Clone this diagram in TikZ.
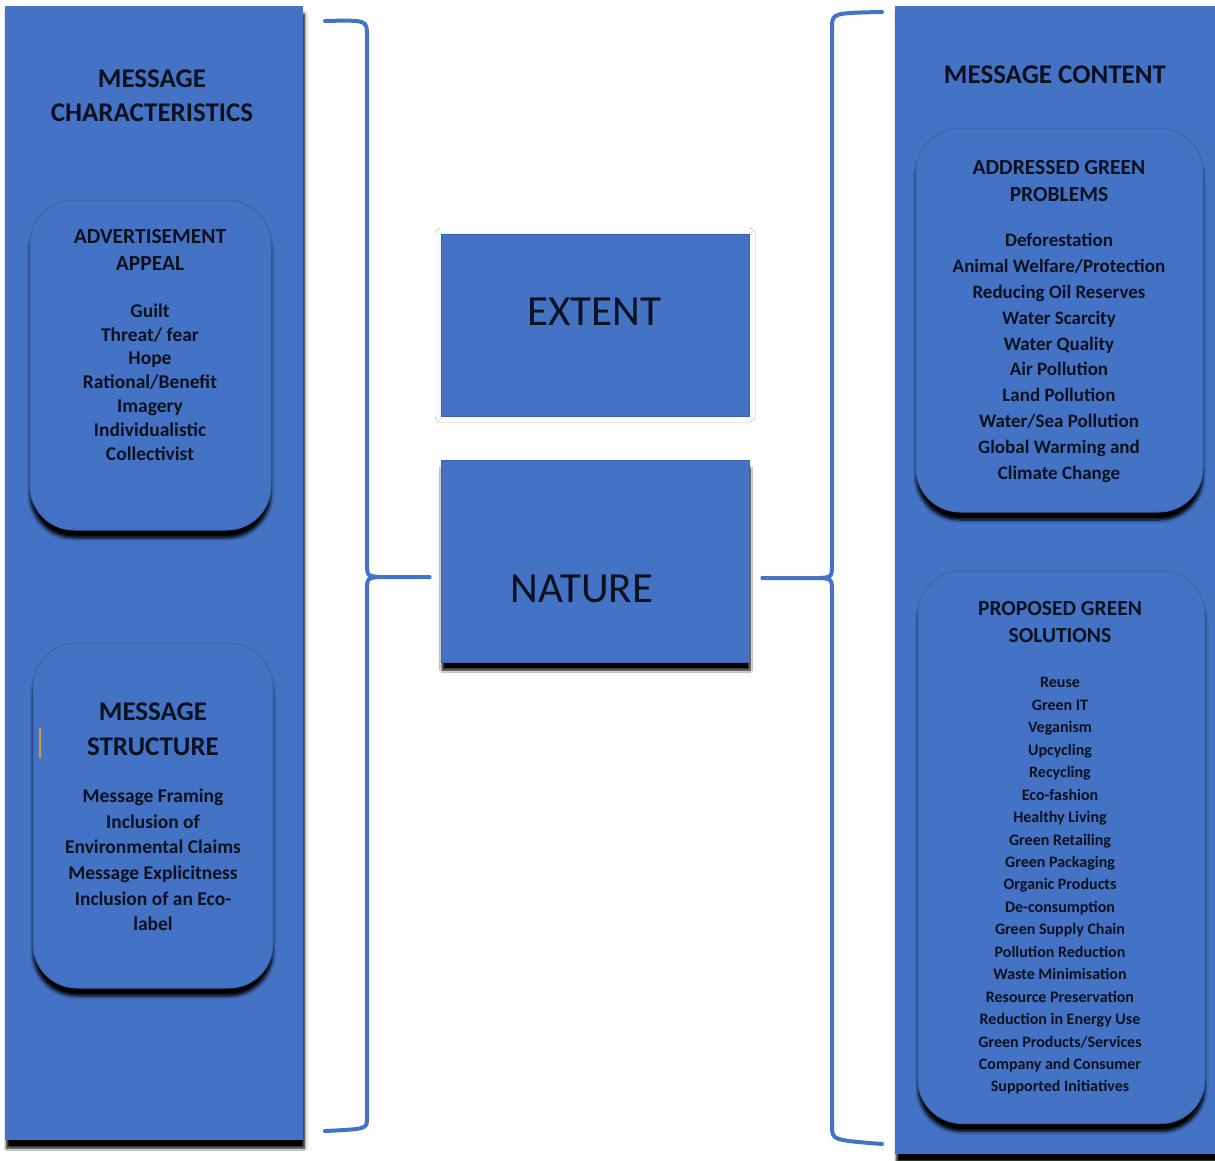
\documentclass[tikz,border=0pt]{standalone}
\usepackage{fontspec}
\setmainfont{Carlito}
\usetikzlibrary{shadows.blur,calc}

\definecolor{officeblue}{HTML}{4472C4}
\definecolor{inkdark}{HTML}{0B111F}
\definecolor{boxedge}{HTML}{3A63AE}
\definecolor{markorange}{HTML}{D39A35}

\newcommand{\setsz}[2]{\fontsize{#1}{#2}\selectfont}

\tikzset{
  panel/.style={rectangle, fill=officeblue, draw=none, inner sep=0pt,
    blur shadow={shadow xshift=1.5pt, shadow yshift=-8pt, shadow opacity=100,
      shadow blur radius=2.5pt, shadow blur steps=6}},
  flatbox/.style={rectangle, fill=officeblue, draw=boxedge, line width=0.6pt, inner sep=0pt},
  roundbox/.style={rectangle, rounded corners=44pt, fill=officeblue,
    draw=boxedge, line width=1pt, inner sep=0pt,
    blur shadow={shadow xshift=0pt, shadow yshift=-8pt, shadow opacity=100,
      shadow blur radius=3pt, shadow blur steps=6}},
  heading/.style={text=inkdark, align=center, inner sep=0pt,
    font=\bfseries\setsz{27}{34}},
  subhead/.style={text=inkdark, align=center, inner sep=0pt,
    font=\bfseries\setsz{21.5}{27}},
  items/.style={text=inkdark, align=center, inner sep=0pt, font=\bfseries},
  bigword/.style={text=inkdark, inner sep=0pt, font=\setsz{43}{50}},
  bracket/.style={draw=officeblue, line width=4pt, line cap=round, line join=round}
}

\begin{document}
\begin{tikzpicture}[x=1pt, y=-1pt]
  \useasboundingbox (0,0) rectangle (1215,1160);
  \fill[white] (0,0) rectangle (1215,1160);

  % ---------- left column: message characteristics ----------
  \node[panel, minimum width=298pt, minimum height=1134pt] (leftpanel) at (154,573) {};
  \node[heading] (lefttitle) at (152,96) {MESSAGE\\CHARACTERISTICS};

  \node[roundbox, minimum width=241pt, minimum height=330pt] (appeal) at (150.5,365) {};
  \node[subhead] (appealtitle) at (150,250) {ADVERTISEMENT\\APPEAL};
  \node[items, font=\bfseries\setsz{19.5}{23.8}] (appeallist) at (150,382)
    {Guilt\\Threat/ fear\\Hope\\Rational/Benefit\\Imagery\\Individualistic\\Collectivist};

  \node[roundbox, minimum width=240pt, minimum height=345pt] (structure) at (153,815.5) {};
  \node[heading, font=\bfseries\setsz{27}{35}] (structuretitle) at (153,729) {MESSAGE\\STRUCTURE};
  \node[items, font=\bfseries\setsz{19.5}{25.6}] (structurelist) at (153,860)
    {Message Framing\\Inclusion of\\Environmental Claims\\Message Explicitness\\Inclusion of an Eco-\\label};
  \draw[markorange, line width=2pt] ($(structure.west)+(7,-88)$) -- ++(0,30);

  % ---------- centre: extent and nature ----------
  \node[flatbox, minimum width=308pt, minimum height=182pt,
    blur shadow={shadow xshift=0pt, shadow yshift=0pt, shadow opacity=8,
      shadow blur radius=6pt, shadow blur steps=4}] (extent) at (595,325) {};
  \node[bigword] (extentlabel) at (594,312) {EXTENT};

  \node[flatbox, minimum width=308pt, minimum height=202pt,
    blur shadow={shadow xshift=1pt, shadow yshift=-8pt, shadow opacity=100,
      shadow blur radius=2.5pt, shadow blur steps=6}] (nature) at (595,561) {};
  \node[bigword] (naturelabel) at (582,589) {NATURE};

  % ---------- right column: message content ----------
  \node[panel, minimum width=322pt, minimum height=1148pt] (rightpanel) at (1056,580) {};
  \node[heading] (righttitle) at (1055,75) {MESSAGE CONTENT};

  \node[roundbox, minimum width=287pt, minimum height=384pt] (problems) at (1059.5,320) {};
  \node[subhead] (problemstitle) at (1059,181) {ADDRESSED GREEN\\PROBLEMS};
  \node[items, font=\bfseries\setsz{19}{25.8}] (problemslist) at (1059,358)
    {Deforestation\\Animal Welfare/Protection\\Reducing Oil Reserves\\Water Scarcity\\Water Quality\\Air Pollution\\Land Pollution\\Water/Sea Pollution\\Global Warming and\\Climate Change};

  \node[roundbox, minimum width=287pt, minimum height=553pt] (solutions) at (1061.5,847) {};
  \node[subhead] (solutionstitle) at (1060,622) {PROPOSED GREEN\\SOLUTIONS};
  \node[items, font=\bfseries\setsz{16}{22.44}] (solutionslist) at (1060,886)
    {Reuse\\Green IT\\Veganism\\Upcycling\\Recycling\\Eco-fashion\\Healthy Living\\Green Retailing\\Green Packaging\\Organic Products\\De-consumption\\Green Supply Chain\\Pollution Reduction\\Waste Minimisation\\Resource Preservation\\Reduction in Energy Use\\Green Products/Services\\Company and Consumer\\Supported Initiatives};

  % ---------- braces gathering each column towards the nature box ----------
  \coordinate (lcusp) at ($(nature.west)+(-61,16)$);
  \coordinate (ltip)  at ($(nature.west)+(-11,16)$);
  \coordinate (rcusp) at ($(nature.east)+(71,17)$);
  \coordinate (rtip)  at ($(nature.east)+(13,17)$);

  \draw[bracket] (325,21) .. controls (367,20) .. (367,36) -- (367,562)
    .. controls (367,576) .. (lcusp) -- (ltip);
  \draw[bracket] (lcusp) .. controls (367,578) .. (367,592) -- (367,1118)
    .. controls (367,1129) .. (325,1131);

  \draw[bracket] (882,12) .. controls (832,13) .. (832,28) -- (832,563)
    .. controls (832,577) .. (rcusp) -- (rtip);
  \draw[bracket] (rcusp) .. controls (832,579) .. (832,593) -- (832,1126)
    .. controls (832,1140) .. (882,1144);
\end{tikzpicture}
\end{document}
